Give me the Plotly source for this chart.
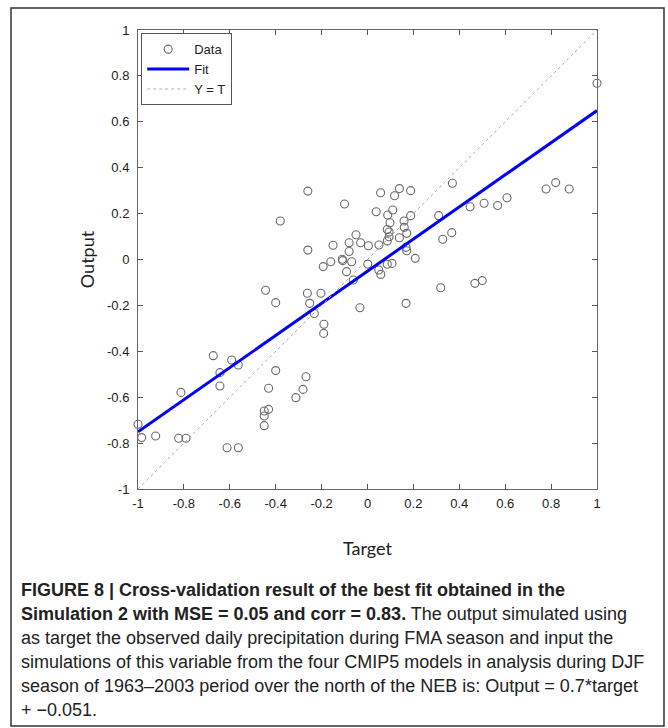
import plotly.graph_objects as go

# Cross-validated simulation: target vs. output (normalised precipitation)
target = [-0.26, -0.10, -0.38, -0.26, -0.15, -0.08, -0.05, -0.03, 0.004, -0.08,
          -0.11, -0.108, -0.16, 0.057, 0.118, 0.139, 0.188, 0.038, 0.088, 0.110,
          0.098, 0.086, 0.094, 0.159, 0.188, 0.160, 0.171, 0.139, 0.094, 0.086,
          0.050, -0.069, -0.193, -0.091, 0.001, 0.049, 0.058, 0.086, 0.107, 0.168,
          0.171, 0.208, -0.062, 0.370, 0.447, 0.508, 0.567, 0.608, 0.310, 0.367,
          0.328, 0.319, 0.468, 0.500, 1.0, 0.778, 0.820, 0.879, -0.444, -0.400,
          -0.262, -0.203, -0.252, -0.232, -0.190, -0.191, -0.400, -0.268, -0.592, -0.563,
          -0.033, -0.672, -0.643, -0.643, -0.813, -1.0, -0.984, -0.923, -0.823, -0.791,
          -0.612, -0.563, -0.431, -0.450, -0.431, -0.450, -0.450, -0.312, -0.281, 0.168]
output = [0.298, 0.242, 0.168, 0.041, 0.062, 0.073, 0.108, 0.073, 0.060, 0.035,
          0.001, -0.005, -0.010, 0.291, 0.278, 0.309, 0.300, 0.208, 0.194, 0.216,
          0.160, 0.131, 0.120, 0.168, 0.191, 0.140, 0.114, 0.095, 0.099, 0.081,
          0.063, -0.010, -0.031, -0.053, -0.020, -0.046, -0.065, -0.021, -0.017, 0.053,
          0.038, 0.005, -0.089, 0.332, 0.230, 0.245, 0.235, 0.269, 0.191, 0.117,
          0.088, -0.123, -0.104, -0.092, 0.768, 0.307, 0.335, 0.307, -0.134, -0.188,
          -0.147, -0.147, -0.191, -0.235, -0.282, -0.322, -0.484, -0.511, -0.438, -0.460,
          -0.210, -0.419, -0.493, -0.551, -0.579, -0.718, -0.776, -0.769, -0.779, -0.779,
          -0.820, -0.820, -0.561, -0.660, -0.653, -0.682, -0.724, -0.602, -0.566, -0.191]

# Linear fit: Output = slope * target + intercept
fit_slope = 0.7
fit_intercept = -0.051
fit_x = [-1, 1]
fit_y = [fit_slope * v + fit_intercept for v in fit_x]
identity = [-1, 1]

tick_vals = [-1, -0.8, -0.6, -0.4, -0.2, 0, 0.2, 0.4, 0.6, 0.8, 1]
tick_text = ["-1", "-0.8", "-0.6", "-0.4", "-0.2", "0", "0.2", "0.4", "0.6", "0.8", "1"]

caption_lines = [
    "<b>FIGURE 8 | Cross-validation result of the best fit obtained in the</b>",
    "<b>Simulation 2 with MSE = 0.05 and corr = 0.83.</b> The output simulated using",
    "as target the observed daily precipitation during FMA season and input the",
    "simulations of this variable from the four CMIP5 models in analysis during DJF",
    "season of 1963\u20132003 period over the north of the NEB is: Output = 0.7*target",
    "+ \u22120.051.",
]

W, H = 668, 728
L, R, T, B = 138, 597, 30, 489


def px_x(px):
    return (px - L) / (R - L)


def px_y(py):
    return (B - py) / (B - T)


fig = go.Figure()
fig.add_trace(go.Scatter(
    x=target, y=output, mode="markers", name="Data", cliponaxis=False,
    marker=dict(symbol="circle-open", size=8, color="#6a6a6a", line=dict(width=1.1)),
))
fig.add_trace(go.Scatter(
    x=fit_x, y=fit_y, mode="lines", name="Fit",
    line=dict(color="#0000ff", width=3),
))
fig.add_trace(go.Scatter(
    x=identity, y=identity, mode="lines", name="Y = T",
    line=dict(color="#b0b0b0", width=1, dash="dot"),
))

axis_common = dict(
    range=[-1, 1], tickmode="array", tickvals=tick_vals, ticktext=tick_text,
    ticks="inside", ticklen=5, tickcolor="#555", tickwidth=1,
    showline=True, linecolor="#666", linewidth=1, mirror="ticks",
    showgrid=False, zeroline=False,
    tickfont=dict(family="Liberation Sans", size=13, color="#222"),
)
fig.update_xaxes(**axis_common, ticklabelstandoff=2,
                 title=dict(text="Target", standoff=32,
                            font=dict(family="Lato", size=18, color="#222")))
fig.update_yaxes(**axis_common, ticklabelstandoff=5,
                 title=dict(text="Output", standoff=7,
                            font=dict(family="Lato", size=18, color="#222")))

shapes = [dict(type="rect", xref="paper", yref="paper",
               x0=px_x(11), x1=px_x(664), y0=px_y(726), y1=px_y(8),
               line=dict(color="#333", width=1.5), fillcolor="rgba(0,0,0,0)", layer="below")]

annotations = []
line_y = [590, 614, 638, 662, 686, 710]
for txt, yy in zip(caption_lines, line_y):
    annotations.append(dict(
        text=txt, xref="paper", yref="paper", x=px_x(19), y=px_y(yy),
        xanchor="left", yanchor="middle", showarrow=False, align="left",
        font=dict(family="Liberation Sans", size=18, color="#222"),
    ))

fig.update_layout(
    width=W, height=H, autosize=False,
    margin=dict(l=L, r=W - R, t=T, b=H - B),
    paper_bgcolor="white", plot_bgcolor="white",
    showlegend=True,
    legend=dict(x=0.007, y=0.993, xanchor="left", yanchor="top",
                bordercolor="#555", borderwidth=1, bgcolor="white",
                font=dict(family="Liberation Sans", size=13, color="#222"),
                tracegroupgap=0, itemwidth=42),
    shapes=shapes, annotations=annotations,
)

fig.write_html("out.html")
